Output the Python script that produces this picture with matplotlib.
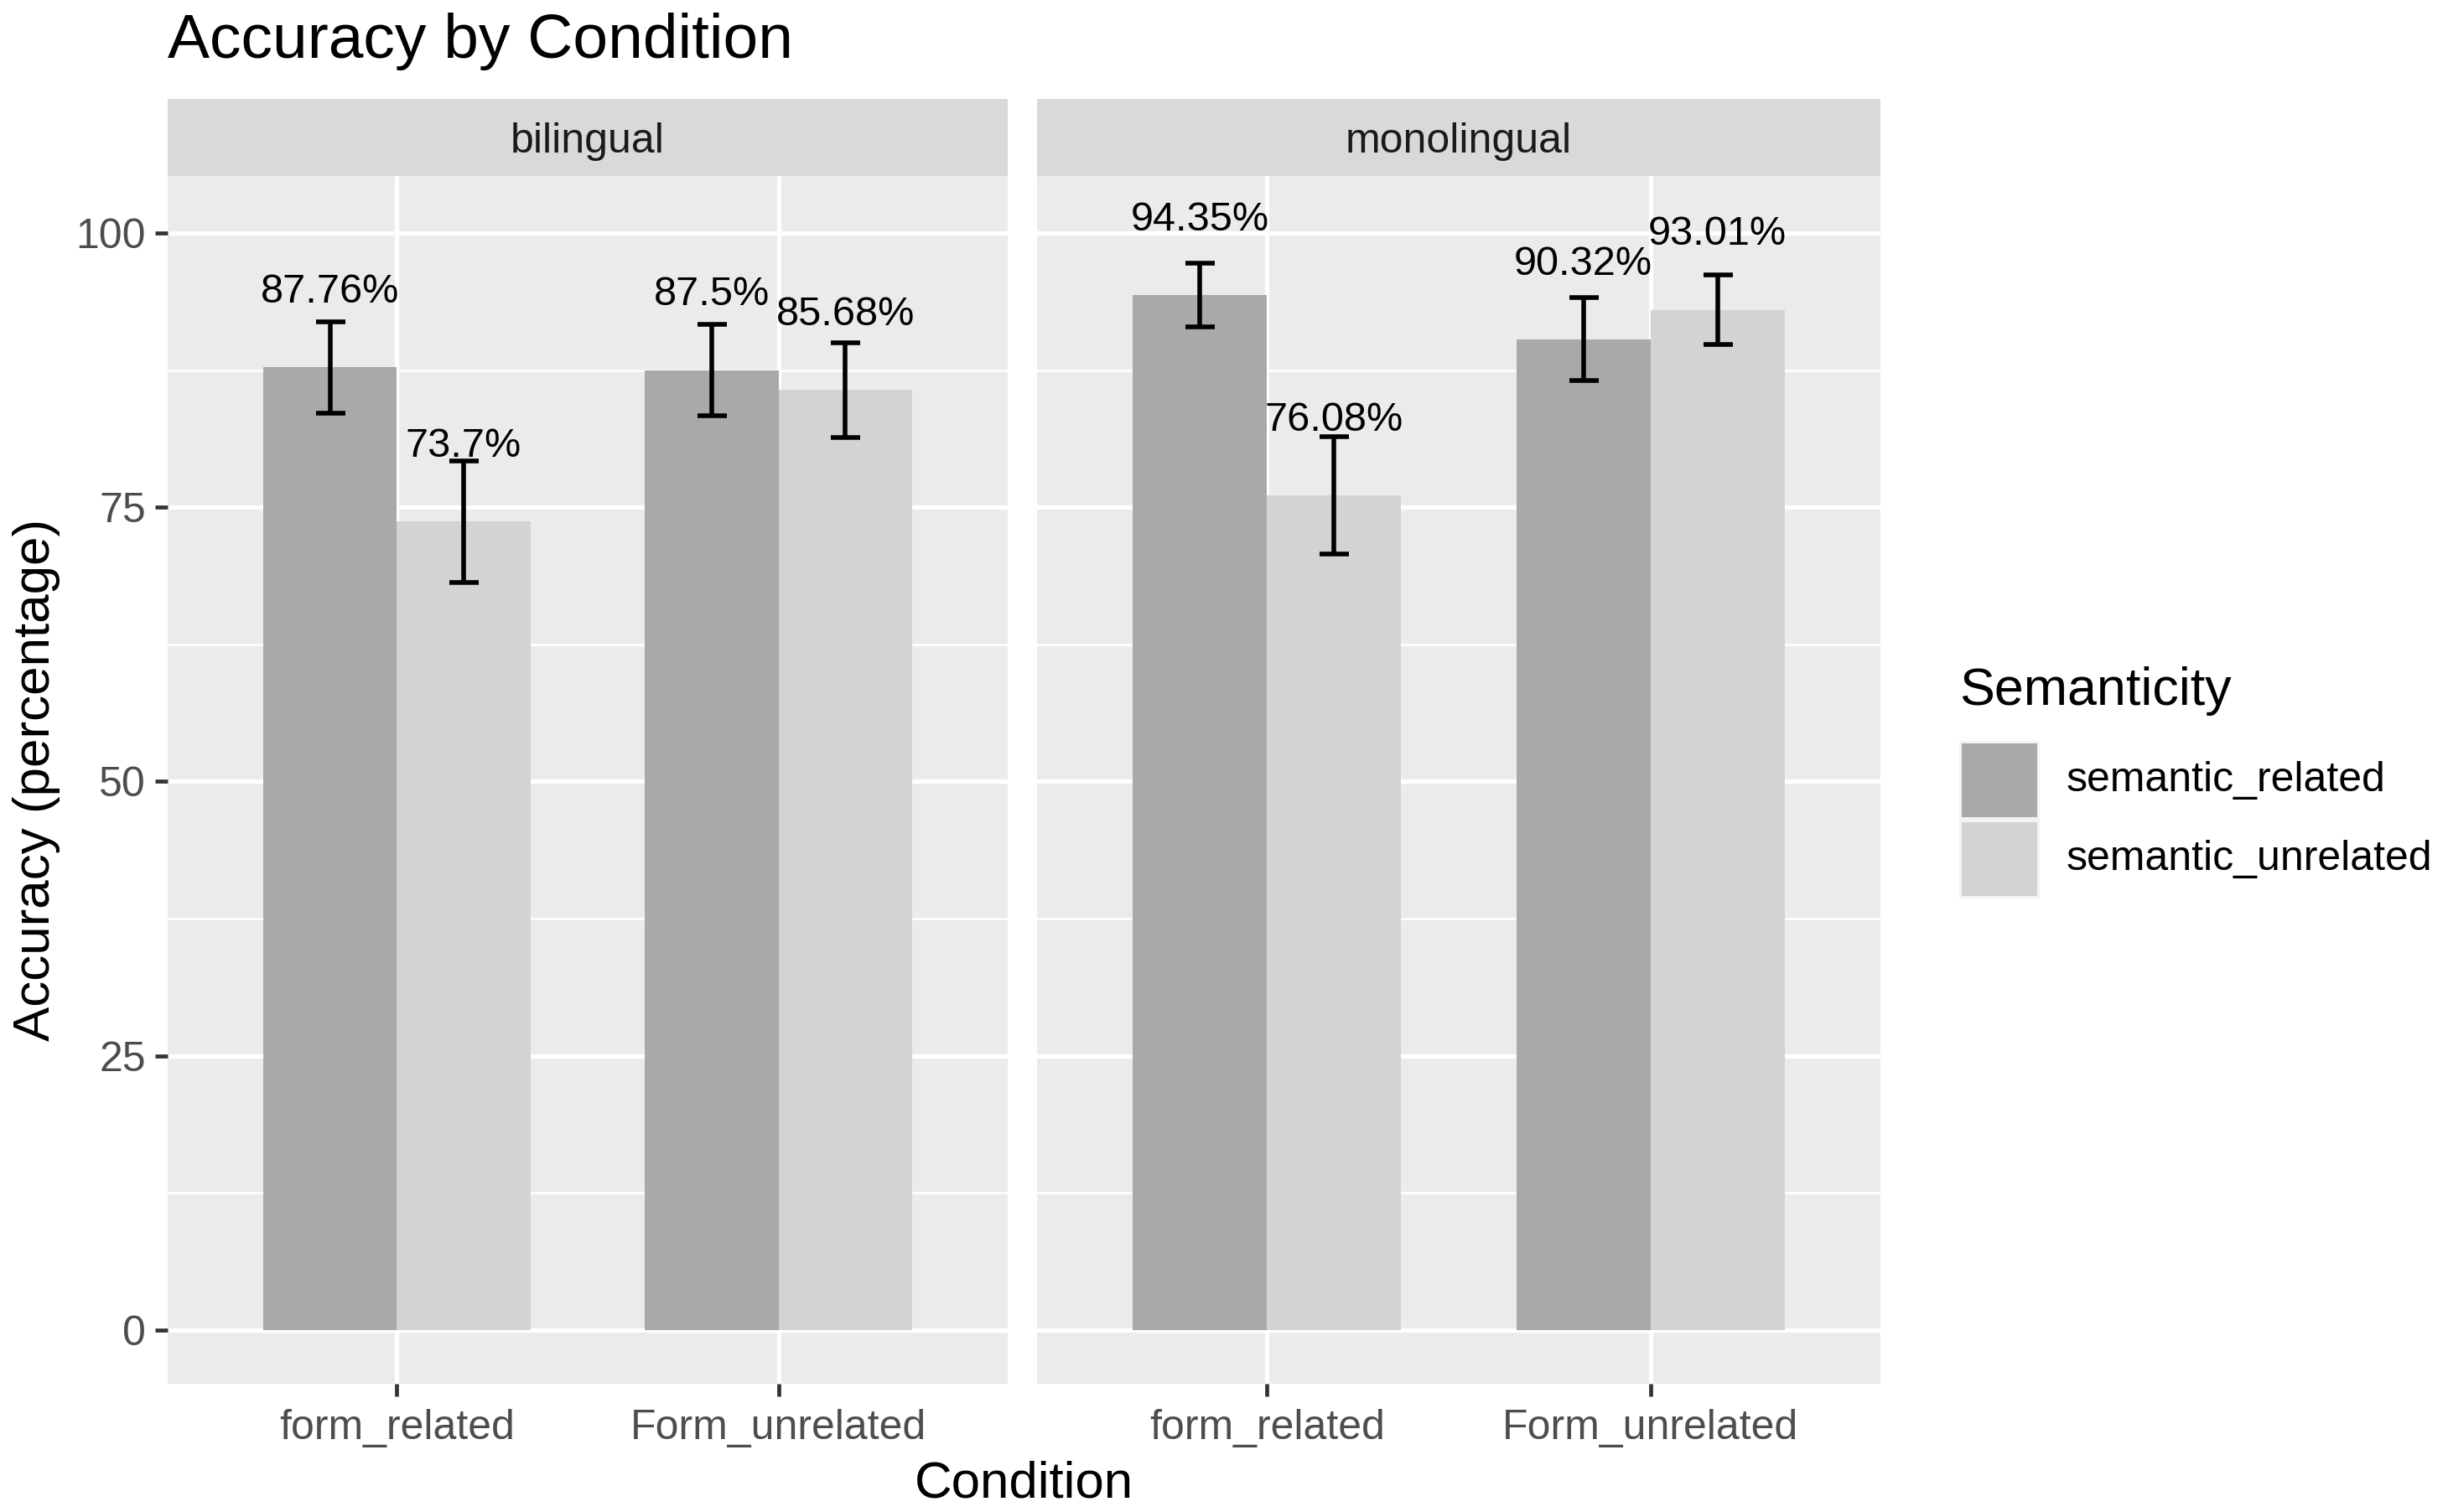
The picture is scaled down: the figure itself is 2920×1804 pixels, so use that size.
import matplotlib
matplotlib.use("Agg")
import matplotlib.pyplot as plt
from matplotlib.patches import Rectangle
import numpy as np

plt.rcParams['font.family'] = ['Liberation Sans', 'DejaVu Sans']

# ---- data ----
groups = ['bilingual', 'monolingual']
conditions = ['form_related', 'Form_unrelated']
semanticity = ['semantic_related', 'semantic_unrelated']
bilingual_related = [87.76, 87.5]
bilingual_unrelated = [73.7, 85.68]
monolingual_related = [94.35, 90.32]
monolingual_unrelated = [76.08, 93.01]
bilingual_related_err = [4.15, 4.15]
bilingual_unrelated_err = [5.55, 4.35]
monolingual_related_err = [2.9, 3.8]
monolingual_unrelated_err = [5.35, 3.2]
y_ticks = [0, 25, 50, 75, 100]

colors = ['#A9A9A9', '#D3D3D3']

W, H = 2920, 1804
DPI = 200
fig = plt.figure(figsize=(W / DPI, H / DPI), dpi=DPI)
fig.patch.set_facecolor('white')


def fx(x):
    return x / W


def fy(y):
    return 1 - y / H


panel_x = [(200, 1202), (1237, 2243)]
panel_top, panel_bot = 210, 1651
strip_top = 118

data = {
    'bilingual': ([bilingual_related, bilingual_unrelated],
                  [bilingual_related_err, bilingual_unrelated_err]),
    'monolingual': ([monolingual_related, monolingual_unrelated],
                    [monolingual_related_err, monolingual_unrelated_err]),
}

TXT = '#4D4D4D'
for gi, g in enumerate(groups):
    x0, x1 = panel_x[gi]
    ax = fig.add_axes([fx(x0), fy(panel_bot), fx(x1) - fx(x0), (panel_bot - panel_top) / H])
    ax.set_facecolor('#EBEBEB')
    for s in ax.spines.values():
        s.set_visible(False)
    ax.set_xlim(0.4, 2.6)
    ax.set_ylim(-4.9, 105.2)
    ax.set_yticks(y_ticks)
    ax.set_yticks([12.5, 37.5, 62.5, 87.5], minor=True)
    ax.set_xticks([1, 2])
    ax.grid(which='major', color='white', linewidth=1.9)
    ax.grid(which='minor', axis='y', color='white', linewidth=0.95)
    ax.set_axisbelow(True)
    ax.tick_params(which='minor', length=0)
    ax.tick_params(which='major', length=5.4, width=1.7, color='#333333',
                   labelsize=18, labelcolor=TXT, pad=4)
    ax.tick_params(axis='x', pad=5.4)
    ax.set_xticklabels(conditions)
    if gi == 0:
        ax.set_yticklabels([str(t) for t in y_ticks])
    else:
        ax.tick_params(axis='y', left=False, labelleft=False)

    vals, errs = data[g]
    xs = np.arange(1, len(conditions) + 1)
    bw = 0.35
    for si in range(2):
        xpos = xs + (si - 0.5) * bw
        ax.bar(xpos, vals[si], width=bw, color=colors[si], edgecolor='none', zorder=2)
        ax.errorbar(xpos, vals[si], yerr=errs[si], fmt='none', ecolor='black',
                    elinewidth=2.0, capsize=6.3, capthick=2.0, zorder=3)
        for xp, v in zip(xpos, vals[si]):
            ax.text(xp, v + 5.9, f"{v:g}%", ha='center', va='baseline',
                    fontsize=17.5, color='black', zorder=4)

    # strip
    sax = fig.add_axes([fx(x0), fy(panel_top), fx(x1) - fx(x0), (panel_top - strip_top) / H])
    sax.set_facecolor('#D9D9D9')
    sax.set_xticks([])
    sax.set_yticks([])
    for s in sax.spines.values():
        s.set_visible(False)
    sax.text(0.5, 0.45, g, ha='center', va='center', fontsize=18, color='#1A1A1A',
             transform=sax.transAxes)

# titles
fig.text(fx(200), fy(49), 'Accuracy by Condition', ha='left', va='center', fontsize=27, color='black')
fig.text(fx(1221), fy(1771), 'Condition', ha='center', va='center', fontsize=22.3, color='black')
fig.text(fx(44), fy(930), 'Accuracy (percentage)', ha='center', va='center', rotation=90,
         fontsize=22.3, color='black')

# legend
LX = 2337
fig.text(fx(LX), fy(824), 'Semanticity', ha='left', va='center', fontsize=22.6, color='black')
key_tops = [884, 978]
for i, lab in enumerate(semanticity):
    kt = key_tops[i]
    fig.add_artist(Rectangle((fx(LX), fy(kt + 94)), 96 / W, 94 / H,
                             transform=fig.transFigure, facecolor='#F2F2F2', edgecolor='none'))
    fig.add_artist(Rectangle((fx(LX + 3), fy(kt + 91)), 90 / W, 88 / H,
                             transform=fig.transFigure, facecolor=colors[i], edgecolor='none'))
    fig.text(fx(LX + 128), fy(kt + 47), lab, ha='left', va='center', fontsize=18.0, color='black')

fig.savefig('out.png', dpi=DPI)
